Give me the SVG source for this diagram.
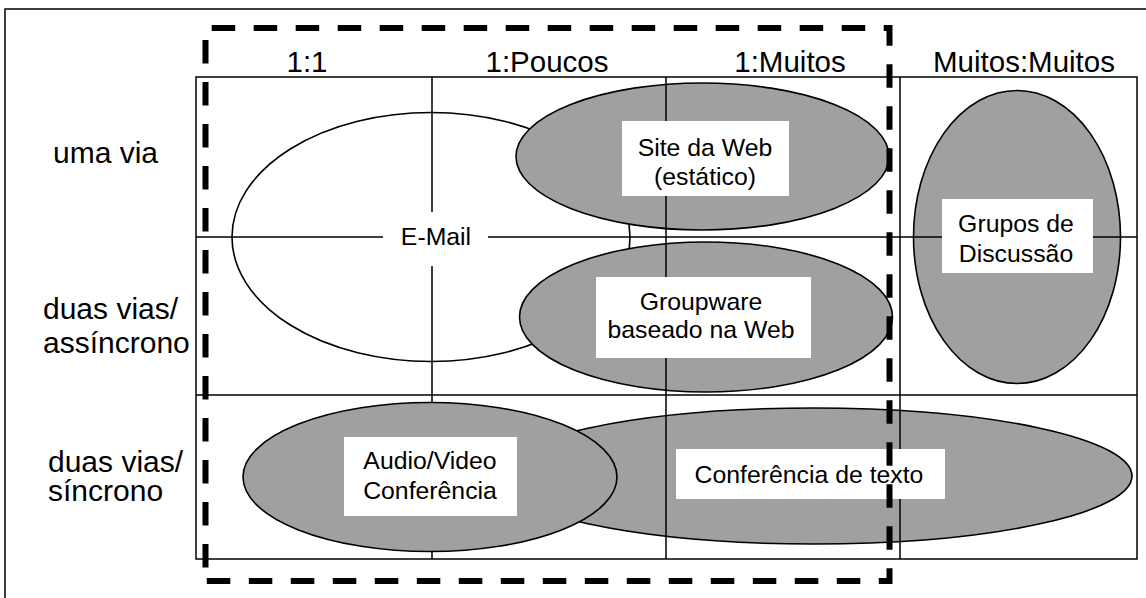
<svg xmlns="http://www.w3.org/2000/svg" width="1146" height="598" viewBox="0 0 1146 598">
<style>
text{font-family:"Liberation Sans",Arial,sans-serif;fill:#000}
.hdr{font-size:29.5px;text-anchor:middle}
.row{font-size:30px}
.lbl{font-size:24.8px;text-anchor:middle}
.ell{stroke:#000;stroke-width:1.6}
.grey{fill:#a0a0a0}
.white{fill:#fff}
.box{fill:#fff;stroke:none}
.ln{stroke:#000;stroke-width:1.5;fill:none}
.dash{fill:none;stroke:#000;stroke-width:6;stroke-dasharray:23.5 18.5}
</style>
<rect x="5" y="9" width="1160" height="610" fill="#fff" stroke="#000" stroke-width="1.5"/>
<g id="headers">
<text class="hdr" x="307" y="72">1:1</text>
<text class="hdr" x="547" y="72">1:Poucos</text>
<text class="hdr" x="790" y="72">1:Muitos</text>
<text class="hdr" x="1024" y="72">Muitos:Muitos</text>
</g>
<g id="rows">
<text class="row" x="53" y="163">uma via</text>
<text class="row" x="43" y="319">duas vias/</text>
<text class="row" x="43" y="353">assíncrono</text>
<text class="row" x="48" y="472">duas vias/</text>
<text class="row" x="48" y="501">síncrono</text>
</g>
<g id="email">
<ellipse class="ell white" cx="431" cy="237" rx="199" ry="124.5"/>
<rect class="box" x="383" y="212" width="105" height="54"/>
<text class="lbl" x="436" y="245">E-Mail</text>
</g>
<g id="site">
<ellipse class="ell grey" cx="702.5" cy="156.5" rx="186.5" ry="73.5"/>
<rect class="box" x="622" y="121" width="167" height="75"/>
<text class="lbl" x="705" y="156">Site da Web</text>
<text class="lbl" x="705" y="185">(estático)</text>
</g>
<g id="groupware">
<ellipse class="ell grey" cx="706" cy="317" rx="186.5" ry="75"/>
<rect class="box" x="596" y="277" width="215" height="81"/>
<text class="lbl" x="701" y="310">Groupware</text>
<text class="lbl" x="701" y="338">baseado na Web</text>
</g>
<g id="grupos">
<ellipse class="ell grey" cx="1017" cy="237" rx="103.5" ry="146.5"/>
<rect class="box" x="942" y="199" width="151" height="74"/>
<text class="lbl" x="1016" y="232">Grupos de</text>
<text class="lbl" x="1016" y="262">Discussão</text>
</g>
<g id="conferencia-texto">
<ellipse class="ell grey" cx="814" cy="476" rx="318" ry="68"/>
<rect class="box" x="676" y="449" width="269" height="50"/>
<text class="lbl" x="809" y="483">Conferência de texto</text>
</g>
<g id="audio-video">
<ellipse class="ell grey" cx="430" cy="477" rx="187" ry="74.5"/>
<rect class="box" x="344" y="437" width="173" height="79"/>
<text class="lbl" x="430" y="469">Audio/Video</text>
<text class="lbl" x="430" y="499">Conferência</text>
</g>
<g id="grid-lines" class="ln">
<rect x="196" y="77" width="941" height="482"/>
<path d="M432,77V212M432,266V402.5M432,551.5V559"/>
<path d="M666,77V121M666,196V277M666,358V559"/>
<path d="M900,77V449M900,499V559"/>
<path d="M196,237H383M488,237H942M1093,237H1137"/>
<path d="M196,395H1137"/>
</g>
<g id="scope">
<path class="dash" d="M205.5,28H889.5V581H205.5" stroke-dashoffset="35.8"/>
<path class="dash" d="M205.5,40V581"/>
</g>
</svg>
